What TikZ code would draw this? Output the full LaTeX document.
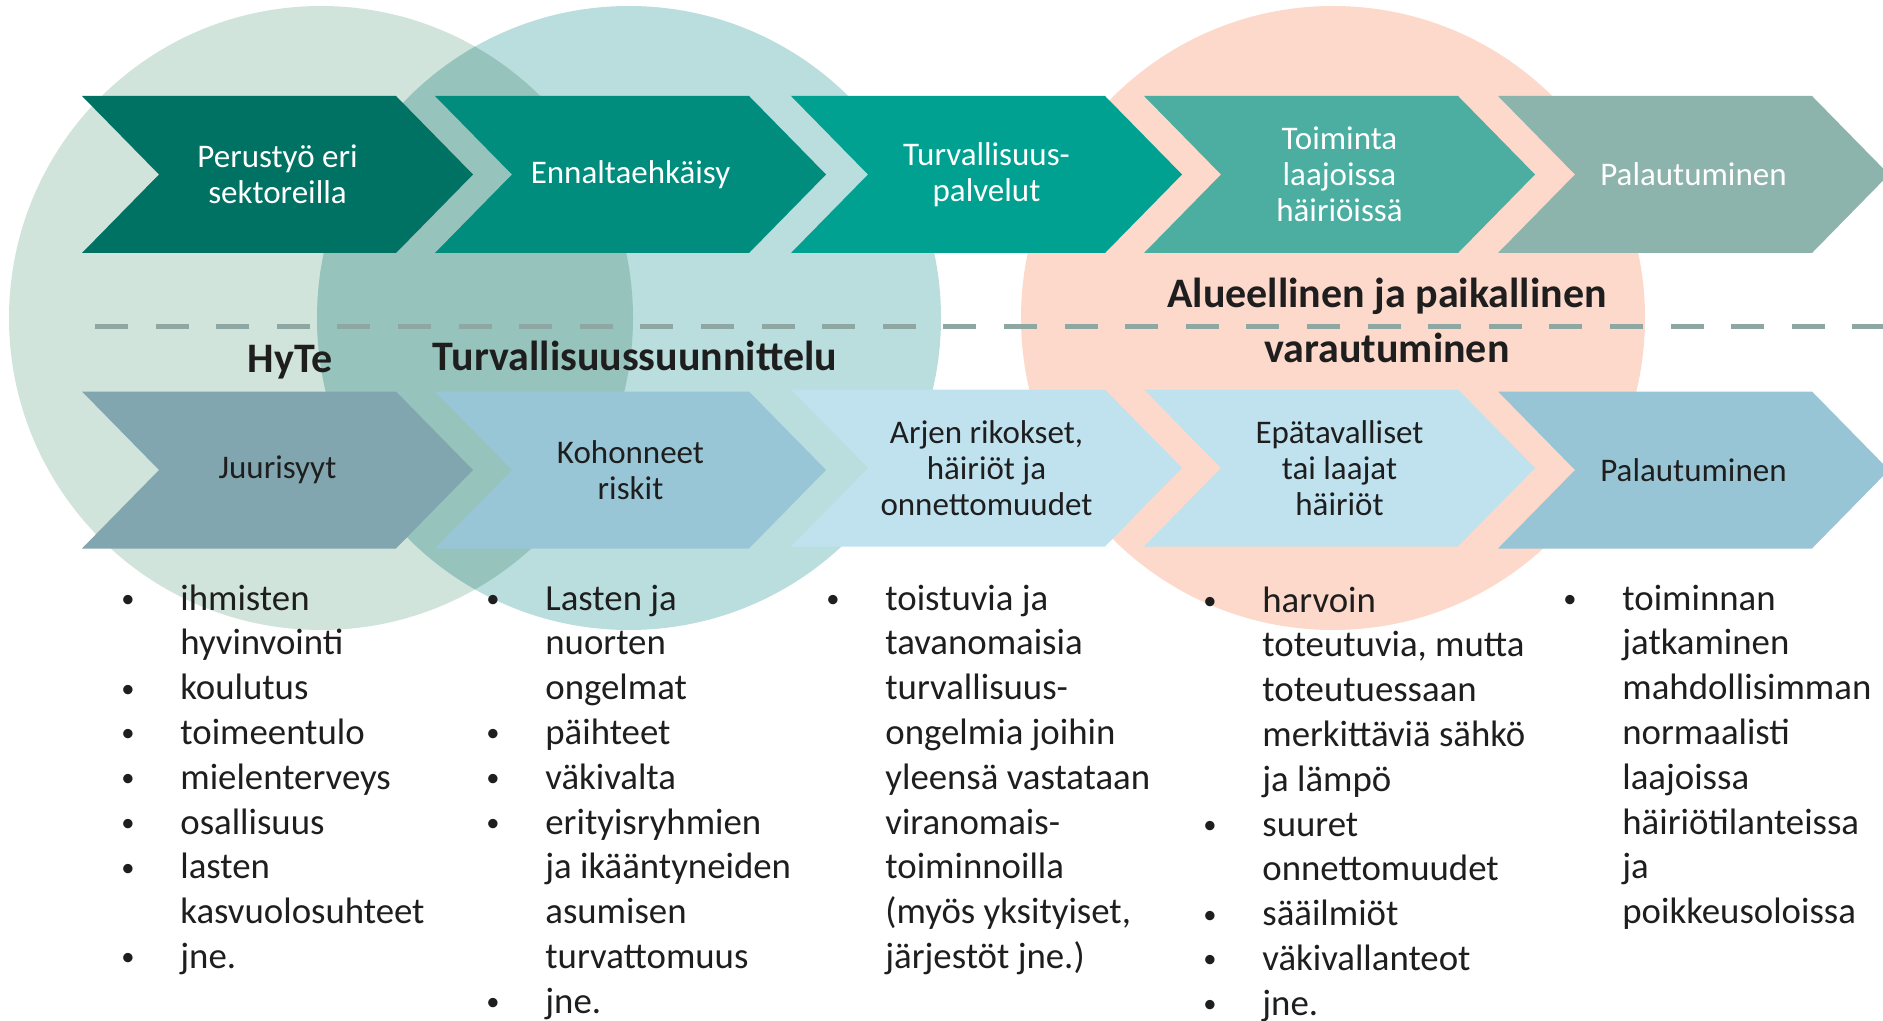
\documentclass[tikz,border=0pt]{standalone}
\usepackage{fontspec}
\setmainfont{Carlito}
\definecolor{topA}{RGB}{0,114,99}
\definecolor{topB}{RGB}{0,141,125}
\definecolor{topC}{RGB}{0,161,145}
\definecolor{topD}{RGB}{75,174,161}
\definecolor{topE}{RGB}{141,180,172}
\definecolor{lowA}{RGB}{130,166,175}
\definecolor{lowB}{RGB}{153,198,214}
\definecolor{lowC}{RGB}{191,226,238}
\definecolor{lowE}{RGB}{152,197,213}
\definecolor{hyteBg}{RGB}{208,228,220}
\definecolor{suunBg}{RGB}{185,222,221}
\definecolor{bothBg}{RGB}{150,196,188}
\definecolor{varaBg}{RGB}{253,217,203}
\definecolor{sepGray}{RGB}{143,167,163}
\definecolor{ink}{RGB}{30,30,30}
\newcommand{\itemdot}{\raisebox{0.07em}{\scalebox{0.72}{•}}}
\tikzset{chev/.style={minimum width=195.5pt, minimum height=78.5pt, inner sep=0pt, align=center,
    font=\fontsize{16.5}{18}\selectfont,
    path picture={\fill[#1] (path picture bounding box.north west)
      -- ([xshift=-38.5pt]path picture bounding box.north east)
      -- (path picture bounding box.east)
      -- ([xshift=-38.5pt]path picture bounding box.south east)
      -- (path picture bounding box.south west)
      -- ([xshift=38.5pt]path picture bounding box.west) -- cycle;}}}
\tikzstyle{toprow}=[text=white]
\tikzstyle{lowrow}=[text=ink]
\tikzstyle{heading}=[anchor=base, inner sep=0pt, text=ink, font=\fontsize{21}{25}\selectfont\bfseries]
\tikzstyle{items}=[anchor=base west, inner sep=0pt, text=ink, font=\fontsize{18.4}{22.4}\selectfont]
\tikzstyle{divider}=[sepGray, line width=2.5pt, dash pattern=on 16.5pt off 13.8pt]

\begin{document}
\begin{tikzpicture}[x=0.5pt, y=-0.5pt]
  \useasboundingbox (0,0) rectangle (1883,1021);
  \coordinate (hyteC) at (321,318);
  \coordinate (suunC) at (629,318);
  \coordinate (varaC) at (1333,318);
  \fill[hyteBg] (hyteC) circle (156pt);
  \fill[suunBg] (suunC) circle (156pt);
  \begin{scope}
    \clip (hyteC) circle (156pt);
    \fill[bothBg] (suunC) circle (156pt);
  \end{scope}
  \fill[varaBg] (varaC) circle (156pt);
  \coordinate (sepL) at (95,327);
  \coordinate (sepR) at (1883,327);
  \draw[divider] (sepL) -- (sepR);

  \node[chev=topA, toprow] (perus) at (277.5,174.5) {Perustyö eri\\sektoreilla};
  \node[chev=topB, toprow] (ennalta) at (630.5,174.5) {Ennaltaehkäisy};
  \node[chev=topC, toprow] (palvelut) at (986.5,174.5) {Turvallisuus-\\palvelut};
  \node[chev=topD, toprow] (toiminta) at (1339.5,174.5) {Toiminta\\laajoissa\\häiriöissä};
  \node[chev=topE, toprow] (palautus) at (1693.5,174.5) {Palautuminen};

  \node[chev=lowA, lowrow] (juuri) at (277.5,470) {Juurisyyt};
  \node[chev=lowB, lowrow] (riskit) at (630.5,470) {Kohonneet\\riskit};
  \node[chev=lowC, lowrow] (arjen) at (986.5,468) {Arjen rikokset,\\häiriöt ja\\onnettomuudet};
  \node[chev=lowC, lowrow] (epatav) at (1339.5,468) {Epätavalliset\\tai laajat\\häiriöt};
  \node[chev=lowE, lowrow] (palaut) at (1693.5,470) {Palautuminen};

  \node[heading] (hyte) at (290,372) {HyTe};
  \node[heading] (suunnittelu) at (635,371) {Turvallisuussuunnittelu};
  \node[heading] (alue) at (1387,308) {Alueellinen ja paikallinen};
  \node[heading] (varaut) at (1387,363) {varautuminen};

  \node[items] (juuriList) at (121,610) {\begin{tabular}[t]{@{}p{29.5pt}@{}l@{}}
    \itemdot & ihmisten\\
      & hyvinvointi\\
    \itemdot & koulutus\\
    \itemdot & toimeentulo\\
    \itemdot & mielenterveys\\
    \itemdot & osallisuus\\
    \itemdot & lasten\\
      & kasvuolosuhteet\\
    \itemdot & jne.
  \end{tabular}};
  \node[items] (riskitList) at (486,610) {\begin{tabular}[t]{@{}p{29.5pt}@{}l@{}}
    \itemdot & Lasten ja\\
      & nuorten\\
      & ongelmat\\
    \itemdot & päihteet\\
    \itemdot & väkivalta\\
    \itemdot & erityisryhmien\\
      & ja ikääntyneiden\\
      & asumisen\\
      & turvattomuus\\
    \itemdot & jne.
  \end{tabular}};
  \node[items] (arjenList) at (826,610) {\begin{tabular}[t]{@{}p{29.5pt}@{}l@{}}
    \itemdot & toistuvia ja\\
      & tavanomaisia\\
      & turvallisuus-\\
      & ongelmia joihin\\
      & yleensä vastataan\\
      & viranomais-\\
      & toiminnoilla\\
      & (myös yksityiset,\\
      & järjestöt jne.)
  \end{tabular}};
  \node[items] (epatavList) at (1203,612) {\begin{tabular}[t]{@{}p{29.5pt}@{}l@{}}
    \itemdot & harvoin\\
      & toteutuvia, mutta\\
      & toteutuessaan\\
      & merkittäviä sähkö\\
      & ja lämpö\\
    \itemdot & suuret\\
      & onnettomuudet\\
    \itemdot & sääilmiöt\\
    \itemdot & väkivallanteot\\
    \itemdot & jne.
  \end{tabular}};
  \node[items] (palautList) at (1563,610) {\begin{tabular}[t]{@{}p{29.5pt}@{}l@{}}
    \itemdot & toiminnan\\
      & jatkaminen\\
      & mahdollisimman\\
      & normaalisti\\
      & laajoissa\\
      & häiriötilanteissa\\
      & ja\\
      & poikkeusoloissa
  \end{tabular}};
\end{tikzpicture}
\end{document}
